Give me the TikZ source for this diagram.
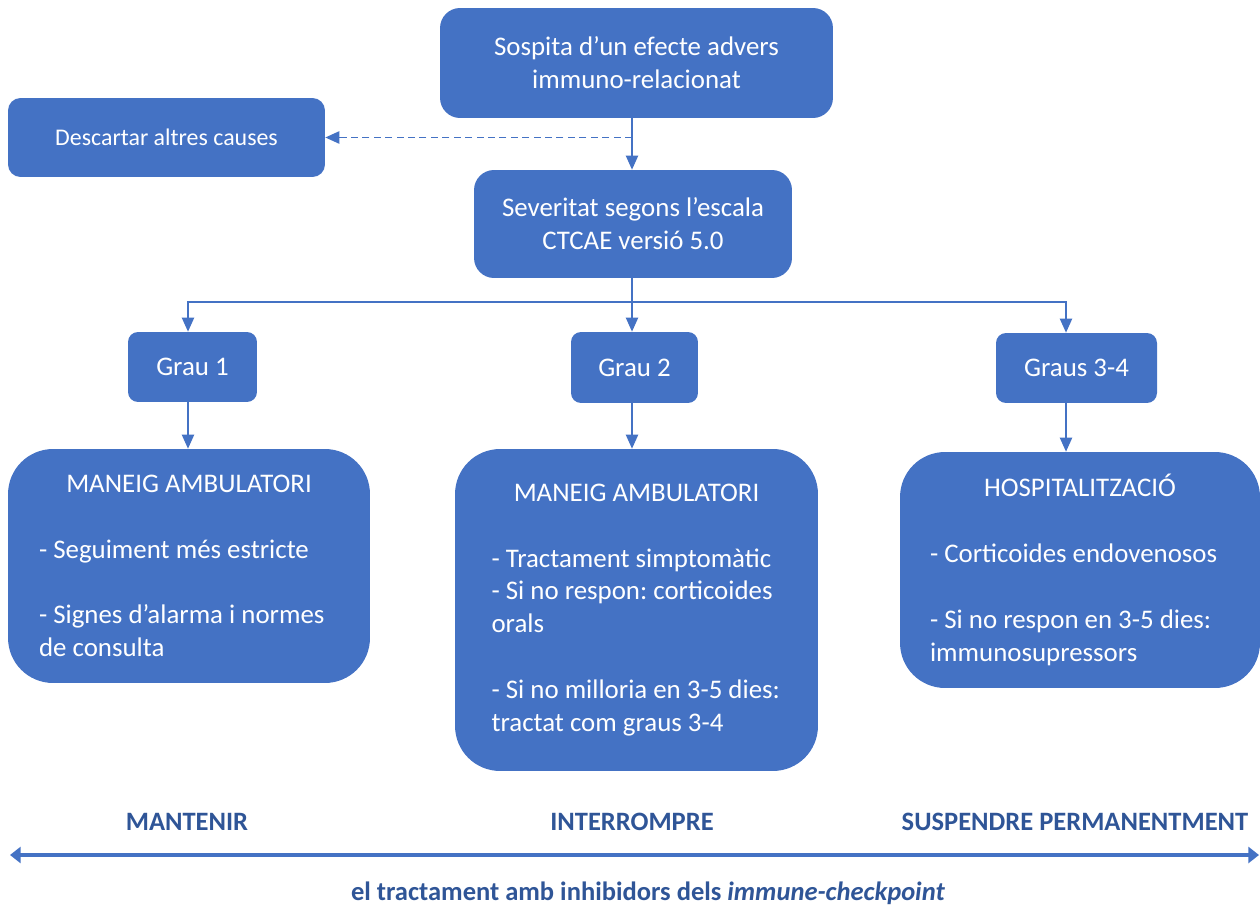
\documentclass[tikz,border=0pt]{standalone}
\usepackage{fontspec}
\setmainfont{Carlito}
\usetikzlibrary{arrows.meta,calc}
\definecolor{caixa}{HTML}{4472C4}
\definecolor{fosc}{HTML}{2F5597}
\frenchspacing
\begin{document}
\begin{tikzpicture}[x=0.02cm,y=-0.02cm,>={Triangle[length=8pt,width=7pt]},
	caixa/.style={fill=caixa,text=white,rounded corners=#1,align=flush center,
		font=\fontsize{15.3}{18.7}\selectfont,inner sep=0pt},
	caixa/.default=0.4cm,
	gran/.style={caixa=0.9cm,align=flush left,text width=#1},
	gran/.default=6.0cm,
	fletxa/.style={draw=caixa,line width=0.8pt},
	etiq/.style={text=fosc,font=\bfseries\fontsize{15.1}{17}\selectfont}]
	\useasboundingbox (0,0) rectangle (1260,908);
	\path
	(636.5,63) node[caixa,minimum width=7.86cm,minimum height=2.2cm] (top)
		{Sospita d’un efecte advers\\immuno-relacionat}
	(166.5,137.5) node[caixa=0.25cm,minimum width=6.34cm,minimum height=1.58cm,
		font=\fontsize{13.6}{16}\selectfont] (desc)
		{Descartar altres causes}
	(633,224) node[caixa,minimum width=6.36cm,minimum height=2.16cm] (sev)
		{Severitat segons l’escala\\CTCAE versió 5.0}
	(192.5,367) node[caixa=0.2cm,minimum width=2.58cm,minimum height=1.4cm] (g1) {Grau 1}
	(634.5,367.5) node[caixa=0.2cm,minimum width=2.54cm,minimum height=1.42cm] (g2) {Grau 2}
	(1076.5,368) node[caixa=0.2cm,minimum width=3.22cm,minimum height=1.4cm] (g3) {Graus 3-4}
	;
	% caixes grans
	\node[gran,minimum width=7.24cm,minimum height=4.68cm] (b1) at (189,566)
		{\makebox[6.0cm]{MANEIG AMBULATORI}\\[\baselineskip]
		- Seguiment més estricte\\[\baselineskip]
		- Signes d’alarma i normes\\de consulta};
	\node[gran=5.8cm,minimum width=7.26cm,minimum height=6.44cm] (b2) at (636.5,610)
		{\makebox[5.8cm]{MANEIG AMBULATORI}\\[\baselineskip]
		- Tractament simptomàtic\\
		- Si no respon: corticoides\\orals\\[\baselineskip]
		- Si no milloria en 3-5 dies:\\tractat com graus 3-4};
	\node[gran,minimum width=7.2cm,minimum height=4.72cm] (b3) at (1080,570)
		{\makebox[6.0cm]{HOSPITALITZACIÓ}\\[\baselineskip]
		- Corticoides endovenosos\\[\baselineskip]
		- Si no respon en 3-5 dies:\\immunosupressors};
	% fletxes
	\coordinate (fork) at (632,302);
	\draw[fletxa,->] (top.south -| fork) -- (fork |- sev.north);
	\draw[fletxa,dashed,dash pattern=on 4pt off 2.5pt,line width=1pt,->] (fork |- desc.east) -- (desc.east);
	\draw[fletxa] (fork |- sev.south) -- (fork);
	\draw[fletxa,->] (fork) -| ([xshift=-0.09cm]g1.north);
	\draw[fletxa,->] (fork) -- (fork |- g2.north);
	\draw[fletxa,->] (fork) -| ([xshift=-0.21cm]g3.north);
	\draw[fletxa,->] ([xshift=-0.09cm]g1.south) -- ([xshift=-0.09cm]g1.south |- b1.north);
	\draw[fletxa,->] (fork |- g2.south) -- (fork |- b2.north);
	\draw[fletxa,->] ([xshift=-0.21cm]g3.south) -- ([xshift=-0.21cm]g3.south |- b3.north);
	% eix inferior
	\path
	(187,822) node[etiq] (mant) {MANTENIR}
	(632,822) node[etiq] (inter) {INTERROMPRE}
	(1075,822) node[etiq] (susp) {SUSPENDRE PERMANENTMENT}
	(648,893) node[etiq] (eix) {el tractament amb inhibidors dels \textit{immune-checkpoint}}
	;
	\coordinate (esq) at (10,855);
	\coordinate (dre) at (1259,855);
	\draw[draw=caixa,line width=2.2pt,{Triangle[length=6pt,width=9pt]}-{Triangle[length=6pt,width=9pt]}] (esq) -- (dre);
\end{tikzpicture}
\end{document}
